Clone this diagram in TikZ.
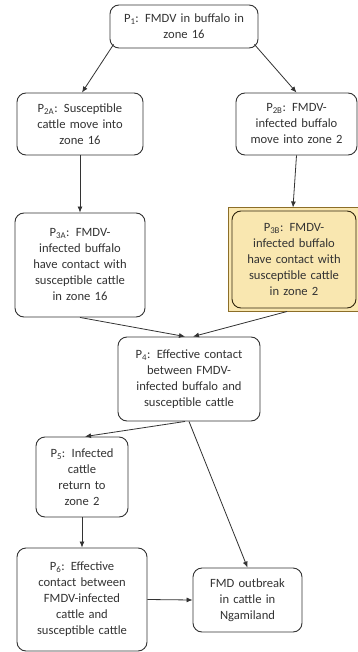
\documentclass[tikz,border=0pt]{standalone}
\usepackage{fontspec}
\setmainfont{Carlito}
\usetikzlibrary{arrows.meta}
\definecolor{boxfill}{RGB}{249,231,176}
\definecolor{boxedge}{RGB}{140,110,40}
\begin{document}
\begin{tikzpicture}[x=1pt,y=-1pt,
  box/.style={draw=black!80, line width=0.9pt, rounded corners=9pt, align=center,
    inner sep=2pt, font=\fontsize{12.6}{16}\selectfont, text=black!80},
  arr/.style={draw=black!80, line width=0.8pt, -{Latex[length=6pt,width=5pt]}}]
\useasboundingbox (0,0) rectangle (358,652);
\fill[white] (0,0) rectangle (358,652);
\node[box, minimum width=148pt, minimum height=43pt, text width=140pt] (p1) at (184,26.5)
  {P\textsubscript{1}: FMDV in buffalo in\\zone 16};
\node[box, minimum width=126pt, minimum height=62pt, text width=120pt] (p2a) at (80,124)
  {P\textsubscript{2A}: Susceptible\\cattle move into\\zone 16};
\node[box, minimum width=121pt, minimum height=62pt, text width=116pt] (p2b) at (296.5,124)
  {P\textsubscript{2B}: FMDV-\\infected buffalo\\move into zone 2};
\node[box, minimum width=130pt, minimum height=104pt, text width=124pt] (p3a) at (80,265)
  {P\textsubscript{3A}: FMDV-\\infected buffalo\\have contact with\\susceptible cattle\\in zone 16};
\node[draw=boxedge, fill=boxfill, line width=1pt,
  minimum width=130pt, minimum height=103pt, inner sep=0pt] (p3bo) at (293,259.5) {};
\node[box, fill=boxfill, draw=black!65!boxedge, minimum width=124pt, minimum height=97pt, text width=118pt] (p3b) at (294,259.5)
  {P\textsubscript{3B}: FMDV-\\infected buffalo\\have contact with\\susceptible cattle\\in zone 2};
\node[box, minimum width=142pt, minimum height=84pt, text width=136pt] (p4) at (189,379)
  {P\textsubscript{4}: Effective contact\\between FMDV-\\infected buffalo and\\susceptible cattle};
\node[box, minimum width=92pt, minimum height=80pt, text width=86pt] (p5) at (82,477)
  {P\textsubscript{5}: Infected\\cattle\\return to\\zone 2};
\node[box, minimum width=130pt, minimum height=103pt, text width=124pt] (p6) at (82,599.5)
  {P\textsubscript{6}: Effective\\contact between\\FMDV-infected\\cattle and\\susceptible cattle};
\node[box, minimum width=109pt, minimum height=64pt, text width=103pt] (fmd) at (247.5,600)
  {FMD outbreak\\in cattle in\\Ngamiland};
\draw[arr] ([shift={(4,-4)}]p1.south west) -- ([xshift=2pt]p2a.north);
\draw[arr] ([shift={(-4,-4)}]p1.south east) -- (p2b.north);
\draw[arr] (p2a.south) -- (p3a.north);
\draw[arr] (p2b.south) -- (p3bo.north);
\draw[arr] (p3a.south) -- ([xshift=-4pt]p4.north);
\draw[arr] ([xshift=-6pt]p3bo.south) -- ([xshift=4pt]p4.north);
\draw[arr] ([xshift=-4pt]p4.south) -- ([xshift=3pt]p5.north);
\draw[arr] (p4.south) -- (fmd.north);
\draw[arr] (p5.south) -- (p6.north);
\draw[arr] (p6.east) -- (fmd.west);
\end{tikzpicture}
\end{document}
